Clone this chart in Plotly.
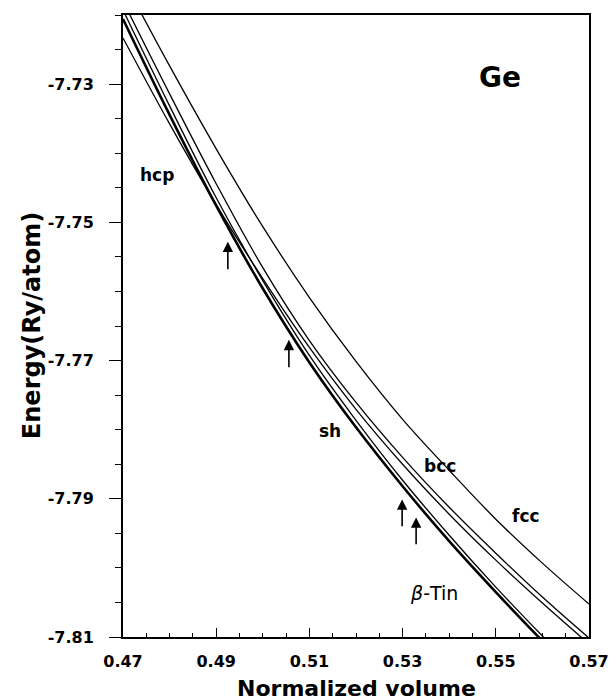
import plotly.graph_objects as go

# 归一化体积网格与各结构的总能 (Ry/atom)
volume = [0.47, 0.48, 0.49, 0.50, 0.51, 0.52, 0.53, 0.54, 0.55, 0.56, 0.57]

e_btin = [-7.72058, -7.73445, -7.74759, -7.75958, -7.77027, -7.77966,
          -7.78819, -7.79613, -7.80350, -7.81058, -7.81737]
e_sh = [-7.71928, -7.73315, -7.74644, -7.75843, -7.76926, -7.77865,
        -7.78732, -7.79527, -7.80278, -7.80986, -7.81665]
e_bcc = [-7.71798, -7.73141, -7.74441, -7.75655, -7.76710, -7.77605,
         -7.78400, -7.79122, -7.79787, -7.80422, -7.81015]
e_hcp = [-7.72332, -7.73575, -7.74745, -7.75814, -7.76811, -7.77706,
         -7.78501, -7.79223, -7.79888, -7.80509, -7.81101]
e_fcc = [-7.71480, -7.72737, -7.73936, -7.75063, -7.76088, -7.77013,
         -7.77851, -7.78588, -7.79295, -7.79931, -7.80523]

# 相变箭头（体积、箭头尖端与尾部能量）
arrow_v = [0.4925, 0.5056, 0.5299, 0.5329]
arrow_tip = [-7.7528, -7.7670, -7.7901, -7.7927]
arrow_tail = [-7.7570, -7.7712, -7.7942, -7.7968]

# 曲线标注文字与位置
label_text = ["hcp", "sh", "bcc", "fcc"]
label_v = [0.4773, 0.5144, 0.5380, 0.5565]
label_e = [-7.7431, -7.7802, -7.7853, -7.7925]

x_ticks = [0.47, 0.49, 0.51, 0.53, 0.55, 0.57]
y_ticks = [-7.81, -7.79, -7.77, -7.75, -7.73]

FONT = "DejaVu Sans"

fig = go.Figure()

curves = [
    ("β-Tin", e_btin, 2.6),
    ("sh", e_sh, 1.3),
    ("bcc", e_bcc, 1.3),
    ("hcp", e_hcp, 1.3),
    ("fcc", e_fcc, 1.3),
]
for name, energy, width in curves:
    fig.add_trace(go.Scatter(
        x=volume, y=energy, mode="lines", name=name,
        line=dict(color="black", width=width, shape="spline"),
        showlegend=False,
    ))

# 箭头
for v, tip, tail in zip(arrow_v, arrow_tip, arrow_tail):
    fig.add_annotation(
        x=v, y=tip, ax=v, ay=tail, axref="x", ayref="y",
        text="", showarrow=True, arrowhead=2, arrowsize=1.3,
        arrowwidth=1.6, arrowcolor="black",
    )

# 曲线名称
for t, v, e in zip(label_text, label_v, label_e):
    fig.add_annotation(
        x=v, y=e, text=f"<b>{t}</b>", showarrow=False,
        font=dict(family=FONT, size=17, color="black"),
    )
fig.add_annotation(
    x=0.5367, y=-7.8037, text="<i>β</i>-Tin", showarrow=False,
    font=dict(family=FONT, size=19, color="black"),
)
fig.add_annotation(
    x=0.5509, y=-7.7290, text="<b>Ge</b>", showarrow=False,
    font=dict(family=FONT, size=28, color="black"),
)

# 坐标轴标题（用注释精确定位）
fig.add_annotation(
    xref="paper", yref="paper", x=0.5, y=-0.083, yanchor="middle",
    text="<b>Normalized volume</b>", showarrow=False,
    font=dict(family=FONT, size=22, color="black"),
)
fig.add_annotation(
    xref="paper", yref="paper", x=-0.195, y=0.5, xanchor="center",
    textangle=-90, text="<b>Energy(Ry/atom)</b>", showarrow=False,
    font=dict(family=FONT, size=24, color="black"),
)

# 页面 body 自带 8px 边距，图幅相应缩小 8px 以落在窗口内
fig.update_layout(
    width=608, height=692,
    margin=dict(l=115, r=27, t=7, b=63),
    paper_bgcolor="white", plot_bgcolor="white",
    font=dict(family=FONT, color="black"),
)
fig.update_xaxes(
    range=[0.47, 0.57], tickvals=x_ticks,
    ticktext=[f"<b>{v:.2f}</b>" for v in x_ticks],
    tickfont=dict(family=FONT, size=16),
    ticks="inside", ticklen=9, tickwidth=1, tickcolor="black",
    minor=dict(tick0=0.47, dtick=0.005, ticks="inside", ticklen=4,
               tickcolor="black"),
    showline=True, linewidth=2, linecolor="black", mirror=True,
    showgrid=False, zeroline=False, ticklabelstandoff=9,
    automargin=False,
)
fig.update_yaxes(
    range=[-7.81, -7.72], tickvals=y_ticks,
    ticktext=[f"<b>{v:.2f}</b>" for v in y_ticks],
    tickfont=dict(family=FONT, size=16),
    ticks="outside", ticklen=12, tickwidth=1, tickcolor="black",
    minor=dict(tick0=-7.81, dtick=0.005, ticks="outside", ticklen=6,
               tickcolor="black"),
    showline=True, linewidth=2, linecolor="black", mirror=True,
    showgrid=False, zeroline=False, ticklabelstandoff=12,
    automargin=False,
)

fig.write_html("out.html")
